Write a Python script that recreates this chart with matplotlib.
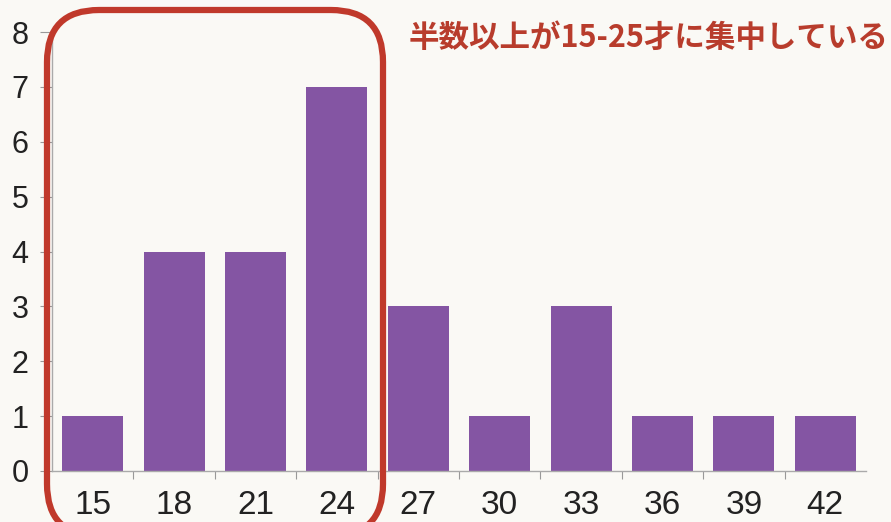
import matplotlib
matplotlib.use("Agg")
import matplotlib.pyplot as plt
from matplotlib.patches import FancyBboxPatch
from matplotlib.transforms import IdentityTransform
import numpy as np

ages = ["15", "18", "21", "24", "27", "30", "33", "36", "39", "42"]
counts = [1, 4, 4, 7, 3, 1, 3, 1, 1, 1]
y_ticks = [0, 1, 2, 3, 4, 5, 6, 7, 8]
note = "半数以上が15-25才に集中している"

W, H = 891, 522
bg = "#faf9f5"
bar_color = "#8455a3"
red = "#c0392b"

fig = plt.figure(figsize=(W / 100, H / 100), dpi=100, facecolor=bg)
ax = fig.add_axes([52 / W, 51 / H, (866 - 52) / W, (471 - 32) / H])
ax.set_facecolor(bg)

x = np.arange(len(ages))
ax.bar(x, counts, width=0.75, color=bar_color, zorder=2)
ax.set_xlim(-0.5, len(ages) - 0.5)
ax.set_ylim(0, 8)

for s in ["top", "right"]:
    ax.spines[s].set_visible(False)
for s in ["left", "bottom"]:
    ax.spines[s].set_color("#aaaaaa")
    ax.spines[s].set_linewidth(1.0)

ax.set_yticks(y_ticks)
ax.set_yticklabels([str(v) for v in y_ticks], fontsize=22, family="Liberation Sans", color="#222222")
ax.tick_params(axis="y", length=9, width=0.8, color="#999999", pad=8)

ax.set_xticks(x)
ax.set_xticklabels(ages, fontsize=24, family="Liberation Sans", color="#222222")
ax.tick_params(axis="x", which="major", length=0, pad=14)
ax.set_xticks(np.arange(0.5, len(ages) - 0.5, 1.0), minor=True)
ax.tick_params(axis="x", which="minor", length=6, width=0.8, color="#999999", direction="out")

# rounded highlight box (display pixel coordinates)
box = FancyBboxPatch((47, -14), 383 - 47, (H - 10) - (-14),
                     boxstyle="round,pad=0,rounding_size=52",
                     transform=IdentityTransform(), fill=False,
                     edgecolor=red, linewidth=4.5, clip_on=False, zorder=5)
fig.patches.append(box)

fig.text(888 / W, 1 - 38 / H, note, ha="right", va="center", fontsize=22,
         fontweight="bold", color="#b83c2c",
         family=["Noto Sans CJK JP", "DejaVu Sans"])

fig.savefig("out.png", dpi=100, facecolor=bg)
